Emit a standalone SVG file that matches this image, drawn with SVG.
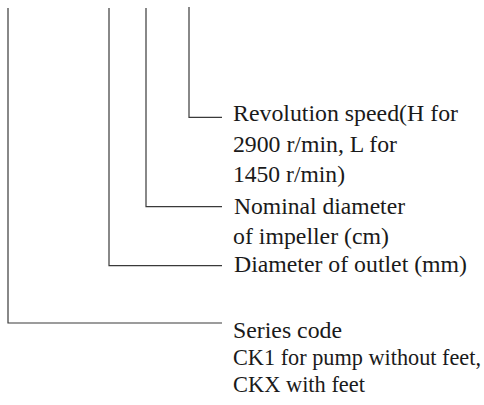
<svg xmlns="http://www.w3.org/2000/svg" width="484" height="405" viewBox="0 0 484 405">
<style>
.c{fill:none;stroke:#3a3a3a;stroke-width:1.2}
.t{font-family:"Liberation Serif","Times New Roman",serif;font-size:22.5px;fill:#1a1a1a}
</style>
<rect width="484" height="405" fill="#fff"/>
<g id="connectors">
<polyline class="c" points="189,7 189,117.3 222,117.3"/>
<polyline class="c" points="146,8 146,206.7 222,206.7"/>
<polyline class="c" points="109,8 109,265.7 222,265.7"/>
<polyline class="c" points="8,8 8,323 222,323"/>
</g>
<g id="node-speed">
<text class="t" x="233" y="121" textLength="225" lengthAdjust="spacingAndGlyphs">Revolution speed(H for</text>
<text class="t" x="233" y="152" textLength="164" lengthAdjust="spacingAndGlyphs">2900 r/min, L for</text>
<text class="t" x="233" y="182" textLength="112" lengthAdjust="spacingAndGlyphs">1450 r/min)</text>
</g>
<g id="node-impeller">
<text class="t" x="234" y="213.5" textLength="171" lengthAdjust="spacingAndGlyphs">Nominal diameter</text>
<text class="t" x="233" y="243.5" textLength="156" lengthAdjust="spacingAndGlyphs">of impeller (cm)</text>
</g>
<g id="node-outlet">
<text class="t" x="234" y="272" textLength="233" lengthAdjust="spacingAndGlyphs">Diameter of outlet (mm)</text>
</g>
<g id="node-series">
<text class="t" x="233" y="338" textLength="109" lengthAdjust="spacingAndGlyphs">Series code</text>
<text class="t" x="233" y="365" textLength="248" lengthAdjust="spacingAndGlyphs">CK1 for pump without feet,</text>
<text class="t" x="233" y="392" textLength="132" lengthAdjust="spacingAndGlyphs">CKX with feet</text>
</g>
</svg>
